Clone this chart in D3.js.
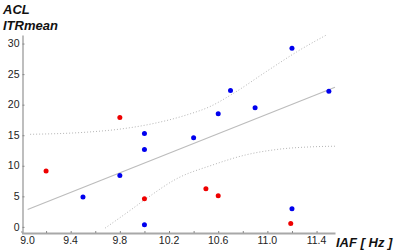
<!DOCTYPE html>
<html><head><meta charset="utf-8">
<script src="https://cdn.jsdelivr.net/npm/d3@7"></script>
<style>body{margin:0;background:#fff}svg{display:block}</style>
</head><body>
<script>
// Data
const blueIAF = [9.5, 9.8, 10.0, 10.0, 10.0, 10.4, 10.6, 10.7, 10.9, 11.2, 11.2, 11.5];
const blueITR = [4.9, 8.4, 15.3, 12.65, 0.35, 14.6, 18.5, 22.3, 19.5, 29.25, 2.95, 22.2];
const redIAF = [9.2, 9.8, 10.0, 10.5, 10.6, 11.19];
const redITR = [9.15, 17.9, 4.6, 6.25, 5.1, 0.55];
const fitIAF = [9.05, 11.55];
const fitITR = [2.85, 22.85];
const upperIAF = [9.07, 9.53, 9.8, 10.07, 10.34, 10.53, 10.72, 10.99, 11.26, 11.48];
const upperITR = [15.15, 15.5, 16.0, 16.9, 18.3, 19.66, 21.8, 25.4, 28.9, 31.4];
const lowerIAF = [9.68, 9.87, 10.0, 10.27, 10.55, 10.82, 11.09, 11.36, 11.55];
const lowerITR = [-0.2, 2.5, 4.4, 7.96, 10.1, 11.76, 12.7, 13.1, 13.2];
const xTickValues = [9.0, 9.2, 9.4, 9.6, 9.8, 10.0, 10.2, 10.4, 10.6, 10.8, 11.0, 11.2, 11.4];
const xTickLabels = ["9.0", "9.4", "9.8", "10.2", "10.6", "11.0", "11.4"];
const yTickValues = [0, 5, 10, 15, 20, 25, 30];
const yTitle = ["ACL", "ITRmean"];
const xTitle = "IAF [ Hz ]";

const W = 397, H = 251;
const svg = d3.select("body").append("svg").attr("width", W).attr("height", H);
const x = d3.scaleLinear().domain([9.0, 11.55]).range([21.5, 335]);
const y = d3.scaleLinear().domain([-1, 31.4]).range([233, 35]);
const font = "Liberation Sans, Arial, sans-serif";

// confidence bands
const line = d3.line().x(d => x(d[0])).y(d => y(d[1])).curve(d3.curveMonotoneX);
svg.append("path").datum(d3.zip(upperIAF, upperITR)).attr("d", line)
  .attr("fill", "none").attr("stroke", "#b5b5b5").attr("stroke-width", 1).attr("stroke-dasharray", "1,2");
svg.append("path").datum(d3.zip(lowerIAF, lowerITR)).attr("d", line)
  .attr("fill", "none").attr("stroke", "#b5b5b5").attr("stroke-width", 1).attr("stroke-dasharray", "1,2");
// fit line
svg.append("path").datum(d3.zip(fitIAF, fitITR)).attr("d", d3.line().x(d => x(d[0])).y(d => y(d[1])))
  .attr("fill", "none").attr("stroke", "#bcbcbc").attr("stroke-width", 1.2);

// axes
const xAxis = d3.axisBottom(x).tickValues(xTickValues).tickSizeInner(-2).tickSizeOuter(0).tickFormat("");
const gx = svg.append("g").attr("transform", `translate(0,${y.range()[0]})`).call(xAxis);
gx.select(".domain").attr("stroke", "#a8a8a8").attr("stroke-width", 2);
gx.selectAll(".tick line").attr("stroke", "#888");
svg.append("g").selectAll("text").data(xTickLabels).join("text")
  .attr("x", (d, i) => x(+d) + (i === 0 ? 6 : 0)).attr("y", 244)
  .attr("text-anchor", "middle").attr("font-family", font).attr("font-size", 10.5)
  .attr("fill", "#222").text(d => d);

const yAxis = d3.axisLeft(y).tickValues(yTickValues).tickSizeInner(-2).tickSizeOuter(0).tickFormat("");
const gy = svg.append("g").attr("transform", `translate(${x.range()[0] + 1},0)`).call(yAxis);
gy.select(".domain").attr("stroke", "#a8a8a8").attr("stroke-width", 1.5);
gy.selectAll(".tick line").attr("stroke", "#888");
svg.append("g").selectAll("text").data(yTickValues).join("text")
  .attr("x", 19.5).attr("y", d => y(d)).attr("dy", "0.35em")
  .attr("text-anchor", "end").attr("font-family", font).attr("font-size", 10.5)
  .attr("fill", "#222").text(d => d);

// points
svg.append("g").selectAll("circle").data(d3.zip(blueIAF, blueITR)).join("circle")
  .attr("cx", d => x(d[0])).attr("cy", d => y(d[1])).attr("r", 2.5).attr("fill", "#0000ee");
svg.append("g").selectAll("circle").data(d3.zip(redIAF, redITR)).join("circle")
  .attr("cx", d => x(d[0])).attr("cy", d => y(d[1])).attr("r", 2.5).attr("fill", "#ee0000");

// titles
svg.append("g").selectAll("text").data(yTitle).join("text")
  .attr("x", 3).attr("y", (d, i) => 14 + i * 16)
  .attr("font-family", font).attr("font-size", 13).attr("font-weight", "bold")
  .attr("font-style", "italic").attr("fill", "#111").text(d => d);
svg.append("text").attr("x", 336).attr("y", 247)
  .attr("font-family", font).attr("font-size", 13).attr("font-weight", "bold")
  .attr("font-style", "italic").attr("fill", "#111").text(xTitle);
</script>
</body></html>
